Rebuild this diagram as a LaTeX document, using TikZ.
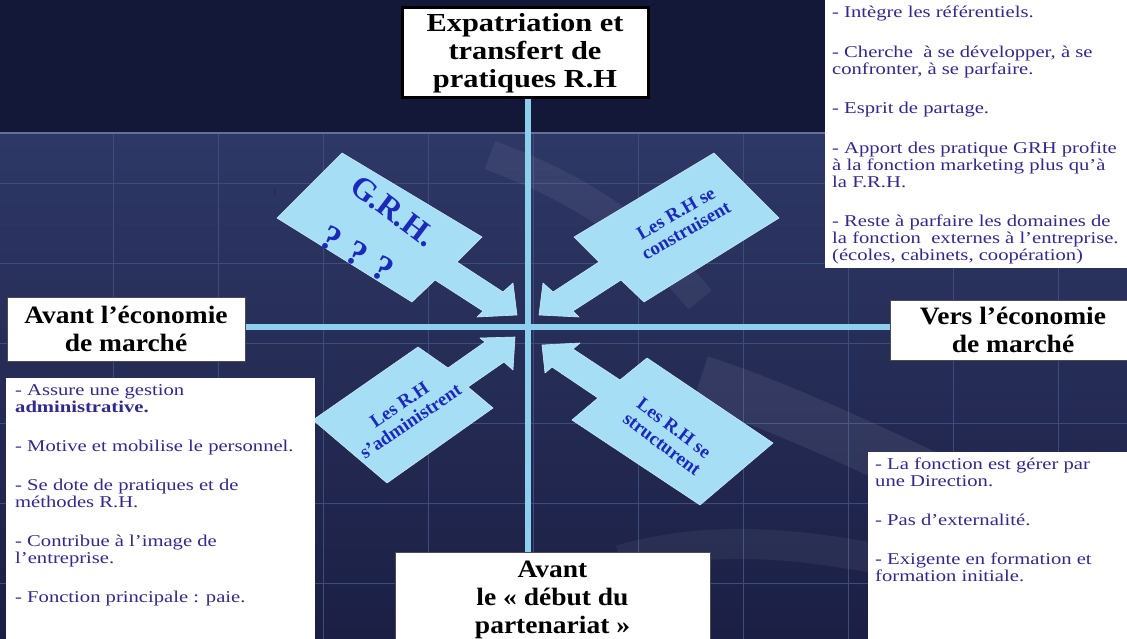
\documentclass[tikz,border=0pt]{standalone}
\usepackage{fontspec}
\setmainfont{Liberation Serif}
\newfontfamily\headfont[FakeStretch=1.1]{Liberation Serif}
\newfontfamily\topheadfont[FakeStretch=1.17]{Liberation Serif}
\newfontfamily\notefont[FakeStretch=1.25]{Liberation Serif}
\usepackage{tikz}
\usetikzlibrary{positioning,calc}

\definecolor{navytop}{RGB}{20,24,56}
\definecolor{navymid}{RGB}{46,56,102}
\definecolor{navylow}{RGB}{27,31,68}
\definecolor{gridblue}{RGB}{62,76,124}
\definecolor{axisblue}{RGB}{140,208,238}
\definecolor{arrowfill}{RGB}{166,222,245}
\definecolor{labelblue}{RGB}{28,42,188}
\definecolor{noteink}{RGB}{50,42,138}

\begin{document}
\begin{tikzpicture}[x=1pt,y=-1pt,
    headbox/.style={draw=black!70, line width=1pt, fill=white, align=center, inner sep=0pt,
        font=\headfont\fontsize{25}{28}\selectfont\bfseries},
    notebox/.style={fill=white, inner sep=0pt, anchor=north west},
    notetext/.style={anchor=north west, align=left, inner sep=0pt, text=noteink,
        font=\notefont\fontsize{16.5}{17}\selectfont},
    axisline/.style={axisblue, line width=6pt},
    callout/.style={fill=arrowfill, draw=arrowfill!60!white, line width=0.6pt, line join=round},
    calltext/.style={text=labelblue, align=center, inner sep=0pt, font=\fontsize{19}{20}\selectfont\bfseries}]

    % background and grid
    \useasboundingbox (0,0) rectangle (1127,639);
    \fill[top color=navymid, bottom color=navylow] (0,133) rectangle (1127,639);
    \fill[navytop] (0,0) rectangle (1127,133);
    \foreach \gx in {113,218,...,1127}
        \draw[gridblue, line width=0.7pt] (\gx,133) -- (\gx,639);
    \foreach \gy in {183,263,...,639}
        \draw[gridblue, line width=0.7pt] (0,\gy) -- (1127,\gy);
    \draw[gridblue!80!white, line width=1.5pt] (0,133) -- (1127,133);
    \draw[white, opacity=0.06, line width=30pt] (490,155) .. controls (570,185) and (640,225) .. (700,300);
    \draw[white, opacity=0.07, line width=50pt] (700,380) .. controls (850,430) and (960,500) .. (1127,560);
    \draw[white, opacity=0.05, line width=30pt] (620,560) .. controls (760,520) and (900,560) .. (1127,620);

    \coordinate (O) at (528,327);

    % axis boxes
    \node[headbox, line width=3pt, draw=black, minimum width=246pt, minimum height=90pt,
        font=\topheadfont\fontsize{26}{28}\selectfont\bfseries] (expat) at (525,53)
        {Expatriation et\\transfert de\\pratiques R.H};
    \node[headbox, minimum width=238pt, minimum height=64pt] (avant) at (126,329)
        {Avant l’économie\\de marché};
    \node[headbox, minimum width=245pt, minimum height=60pt, anchor=west] (vers) at (890,330)
        {Vers l’économie\\de marché};
    \node[headbox, minimum width=315pt, minimum height=96pt] (debut) at (552.5,600)
        {Avant\\le « début du\\partenariat »};

    \draw[axisline] (expat.south -| O) -- (debut.north -| O);
    \draw[axisline] (avant.east |- O) -- (vers.west |- O);

    % callout arrows
    \filldraw[callout] (277,218) -- (342,153) -- (482,237) -- (457,262) -- (503,292) -- (513,283)
        -- (517,315) -- (477,317) -- (483,311) -- (435,280) -- (412,302) -- cycle;
    \filldraw[callout] (779,218) -- (714,153) -- (574,237) -- (599,262) -- (553,292) -- (543,283)
        -- (539,315) -- (579,317) -- (573,311) -- (621,280) -- (644,302) -- cycle;
    \filldraw[callout] (313,420) -- (418,347) -- (448,368) -- (485,342) -- (480,338) -- (515,337)
        -- (513,370) -- (504,362) -- (468,387) -- (493,408) -- (387,483) -- cycle;
    \filldraw[callout] (647,358) -- (773,443) -- (700,505) -- (572,420) -- (598,398) -- (552,367)
        -- (545,373) -- (542,345) -- (580,343) -- (573,349) -- (620,380) -- cycle;

    \node[calltext, rotate=-37, font=\fontsize{32}{34}\selectfont\bfseries] (grh) at (393,211) {G.R.H.};
    \node[calltext, rotate=-30, font=\fontsize{36}{36}\selectfont\bfseries] (qmarks) at (357,254) {? ? ?};
    \node[calltext, rotate=30] (construct) at (681,222) {Les R.H se\\construisent};
    \node[calltext, rotate=34] (admin) at (405,413) {Les R.H\\s’administrent};
    \node[calltext, rotate=-37] (struct) at (668,436) {Les R.H se\\structurent};
    \node[font=\fontsize{9}{9}\selectfont, text=black!85, inner sep=0pt] (pagenum) at (275,193) {1};

    % notes
    \node[notebox, minimum width=302pt, minimum height=268pt] (topnotes) at (825,0) {};
    \node[notetext] (toptext) at (832,6)
        {- Intègre les référentiels.\\[22.5pt]
         - Cherche \ à se développer, à se\\confronter, à se parfaire.\\[22.5pt]
         - Esprit de partage.\\[22.5pt]
         - Apport des pratique GRH profite\\à la fonction marketing plus qu’à\\la F.R.H.\\[22.5pt]
         - Reste à parfaire les domaines de\\la fonction \ externes à l’entreprise.\\(écoles, cabinets, coopération)};

    \node[notebox, minimum width=309pt, minimum height=270pt] (leftnotes) at (6,378) {};
    \node[notetext] (lefttext) at (15,384)
        {- Assure une gestion\\\textbf{administrative.}\\[22pt]
         - Motive et mobilise le personnel.\\[22pt]
         - Se dote de pratiques et de\\méthodes R.H.\\[22pt]
         - Contribue à l’image de\\l’entreprise.\\[22pt]
         - Fonction principale : paie.};

    \node[notebox, minimum width=265pt, minimum height=195pt] (rightnotes) at (868,452) {};
    \node[notetext] (righttext) at (875,458)
        {- La fonction est gérer par\\une Direction.\\[22pt]
         - Pas d’externalité.\\[22pt]
         - Exigente en formation et\\formation initiale.};
\end{tikzpicture}
\end{document}
